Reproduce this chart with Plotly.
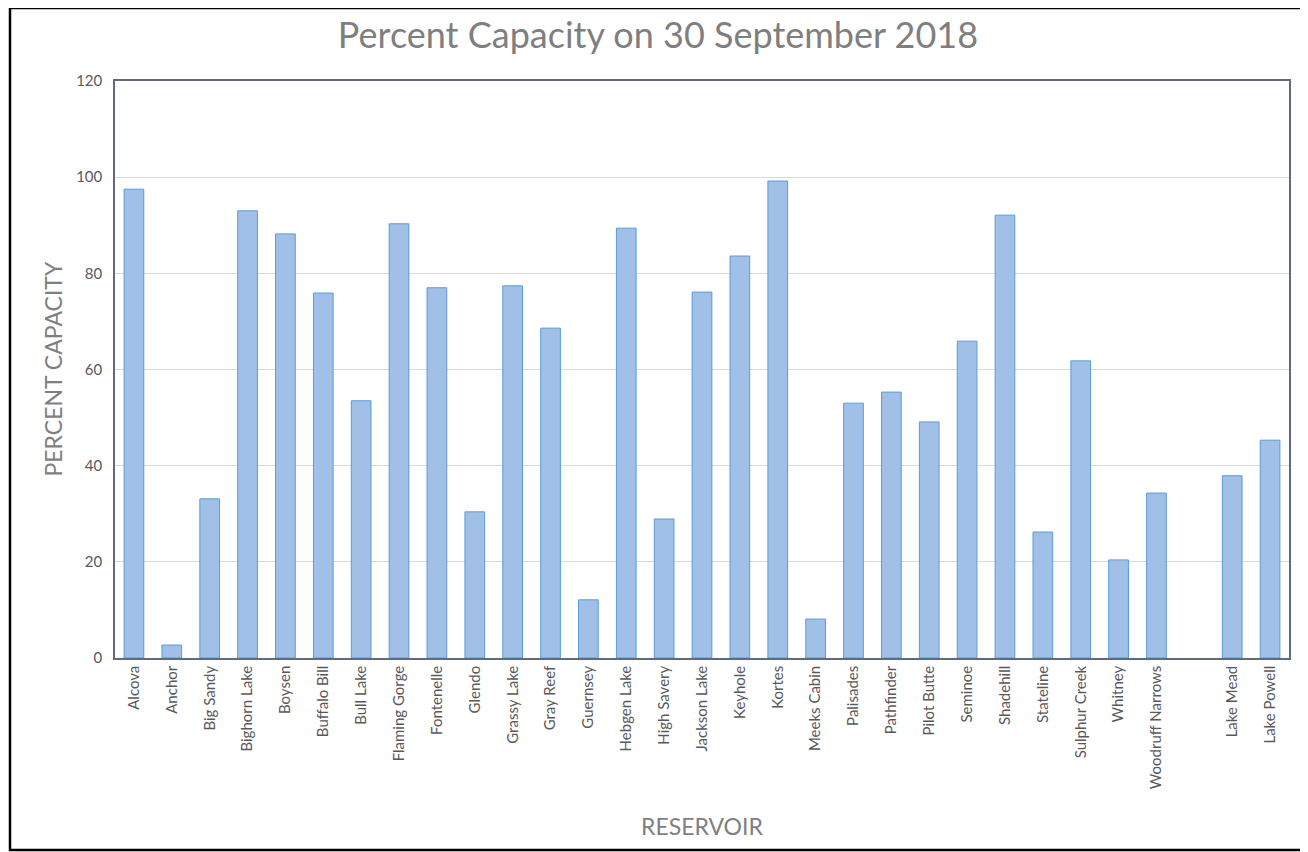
import plotly.graph_objects as go

# reservoirs (the blank " " slot keeps the gap before Lake Mead / Lake Powell)
reservoirs = [
    "Alcova", "Anchor", "Big Sandy", "Bighorn Lake", "Boysen", "Buffalo Bill",
    "Bull Lake", "Flaming Gorge", "Fontenelle", "Glendo", "Grassy Lake",
    "Gray Reef", "Guernsey", "Hebgen Lake", "High Savery", "Jackson Lake",
    "Keyhole", "Kortes", "Meeks Cabin", "Palisades", "Pathfinder",
    "Pilot Butte", "Seminoe", "Shadehill", "Stateline", "Sulphur Creek",
    "Whitney", "Woodruff Narrows", " ", "Lake Mead", "Lake Powell",
]
pct_capacity = [
    97.5, 2.7, 33.1, 93.0, 88.2, 75.9,
    53.5, 90.3, 77.0, 30.4, 77.4,
    68.6, 12.1, 89.4, 28.9, 76.1,
    83.6, 99.2, 8.1, 53.0, 55.3,
    49.1, 65.9, 92.1, 26.2, 61.8,
    20.4, 34.3, None, 37.9, 45.3,
]
y_ticks = [0, 20, 40, 60, 80, 100, 120]

FONT = "Lato"
GREY = "#7f7f7f"

# the page puts the figure 8px in from the window edge
W, H = 1300, 844
L, T, R, B = 107, 73, 19, 194
PW, PH = W - L - R, H - T - B


def px_x(x):
    return (x - L) / PW


def px_y(y):
    return (T + PH - y) / PH


fig = go.Figure(go.Bar(
    x=reservoirs,
    y=pct_capacity,
    marker=dict(color="#a0c0e8", line=dict(color="#5b9bd5", width=1)),
))

fig.update_layout(
    width=W, height=H,
    margin=dict(l=L, r=R, t=T, b=B),
    paper_bgcolor="white", plot_bgcolor="white",
    bargap=0.48,
    showlegend=False,
    font=dict(family=FONT, color="#595959"),
    title=dict(
        text="Percent Capacity on 30 September 2018",
        x=650 / W, xanchor="center", xref="container",
        y=1 - 27 / H, yanchor="middle", yref="container",
        font=dict(family=FONT, size=36, color=GREY),
    ),
)

fig.update_xaxes(
    type="category", categoryorder="array", categoryarray=reservoirs,
    tickangle=-90, tickfont=dict(size=15, color="#595959"),
    showline=True, linecolor="#5f6b7c", linewidth=1.5, mirror=True,
    showgrid=False, ticks="",
)
fig.update_yaxes(
    range=[0, 120], tickvals=y_ticks,
    tickfont=dict(size=15, color="#595959"),
    showgrid=True, gridcolor="#d9d9d9", gridwidth=1,
    showline=True, linecolor="#5f6b7c", linewidth=1.5, mirror=True,
    zeroline=False, ticks="", ticklabelstandoff=8,
)

# axis titles
fig.add_annotation(
    text="PERCENT CAPACITY", xref="paper", yref="paper",
    x=px_x(44), y=0.5, textangle=-90, showarrow=False,
    xanchor="center", yanchor="middle",
    font=dict(family=FONT, size=23, color=GREY),
)
fig.add_annotation(
    text="RESERVOIR", xref="paper", yref="paper",
    x=0.5, y=px_y(818), showarrow=False,
    xanchor="center", yanchor="middle",
    font=dict(family=FONT, size=23, color=GREY),
)

# outer chart frame
fig.add_shape(
    type="rect", xref="paper", yref="paper",
    x0=px_x(2), x1=px_x(1297),
    y0=px_y(842), y1=px_y(0),
    line=dict(color="black", width=2.5),
)

fig.write_html("out.html")
